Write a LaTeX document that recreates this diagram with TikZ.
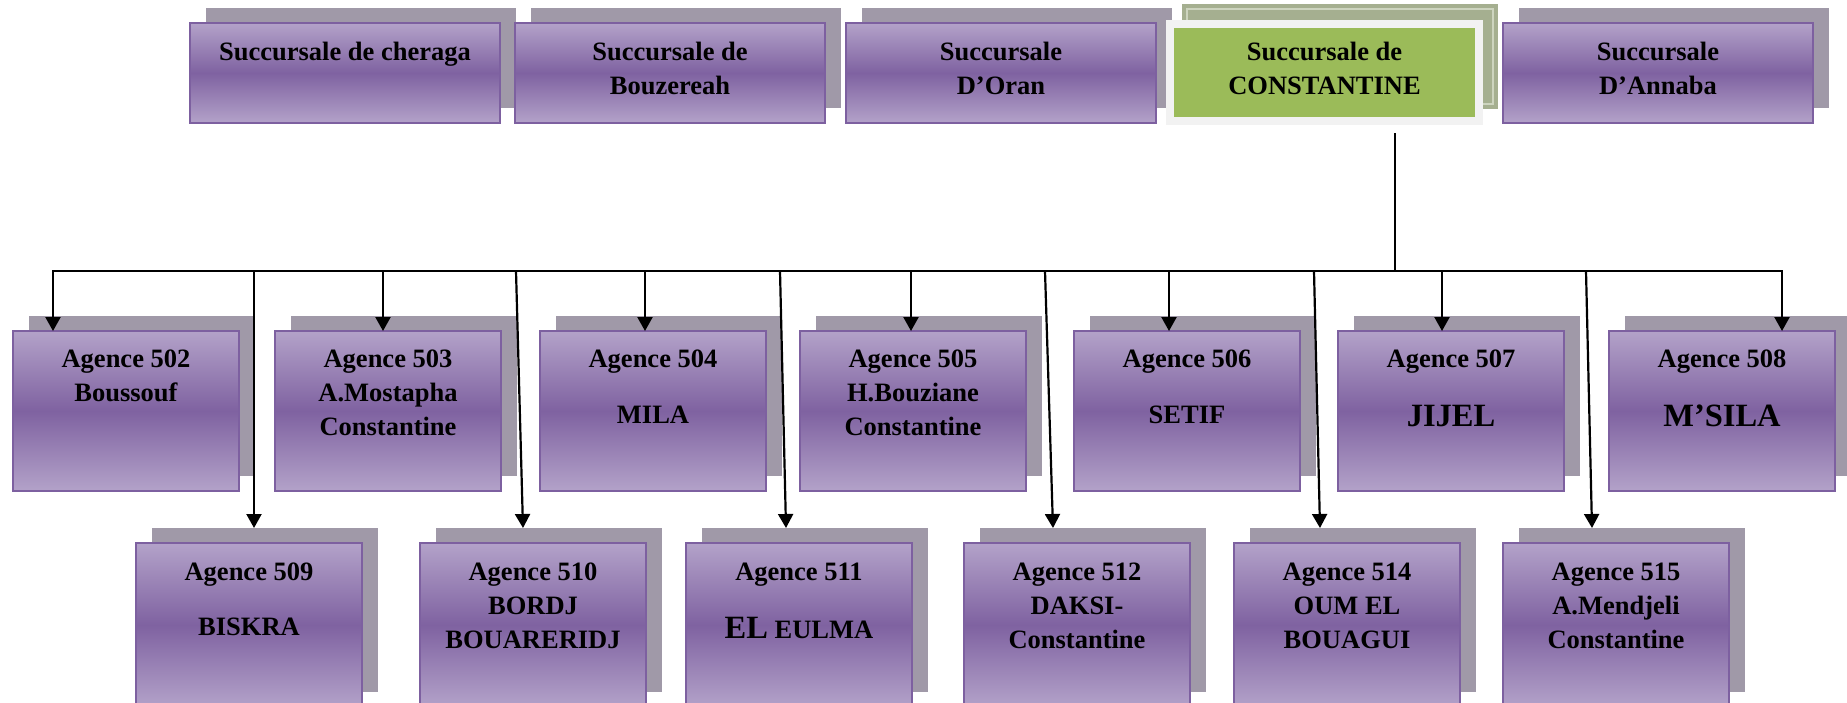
\documentclass[tikz,border=0pt]{standalone}
\usepackage{fontspec}
\setmainfont{Liberation Serif}
\usetikzlibrary{arrows.meta,shadows}
\definecolor{plight}{HTML}{B3A2C9}
\definecolor{pdark}{HTML}{7F62A1}
\definecolor{pborder}{HTML}{7D60A0}
\definecolor{sgrey}{HTML}{A099A8}
\definecolor{cgreen}{HTML}{9BBB59}
\definecolor{cframe}{HTML}{F2F2F2}
\definecolor{cshadow}{HTML}{A5AF90}
\definecolor{cline}{HTML}{CDD4BF}
\newcommand{\tbx}[1]{\parbox[t][100pt][t]{310pt}{\centering\rule{0pt}{37pt}#1}}
\newcommand{\abx}[1]{\parbox[t][160pt][t]{226pt}{\centering\rule{0pt}{36pt}#1}}
\newcommand{\abxb}[1]{\parbox[t][164pt][t]{226pt}{\centering\rule{0pt}{37pt}#1}}
\newcommand{\bigtxt}[1]{{\fontsize{32.5pt}{34pt}\selectfont #1}}
\tikzset{
  basebox/.style={inner sep=0pt, outer sep=0pt, anchor=north west, line width=2pt,
    draw=pborder, top color=plight, bottom color=plight, middle color=pdark,
    drop shadow={shadow xshift=16pt, shadow yshift=15pt, fill=sgrey, opacity=1, draw=none},
    font=\fontsize{26.5pt}{34pt}\selectfont\bfseries},
  topbox/.style={basebox, minimum width=310pt, minimum height=100pt},
  agbox/.style={basebox, minimum width=226pt, minimum height=160pt},
  agboxb/.style={basebox, minimum width=226pt, minimum height=164pt},
  consbox/.style={inner sep=0pt, outer sep=0pt, anchor=north west, fill=cgreen,
    draw=cframe, line width=8pt, minimum width=309pt, minimum height=97pt,
    font=\fontsize{26.5pt}{34pt}\selectfont\bfseries},
  cshbox/.style={inner sep=0pt, outer sep=0pt, anchor=north west, fill=cshadow,
    draw=none, minimum width=316pt, minimum height=105pt},
  conn/.style={line width=2.2pt, black},
  arr/.style={conn, -{Triangle[width=15pt,length=14pt]}}
}
\begin{document}
\begin{tikzpicture}[x=1pt,y=-1pt]
\useasboundingbox (0,0) rectangle (1847,702);
% top row
\node[topbox] (c1) at (190,23) {\tbx{Succursale de cheraga}};
\node[topbox] (c2) at (515,23) {\tbx{Succursale de\\Bouzereah}};
\node[topbox] (c3) at (846,23) {\tbx{Succursale\\D’Oran}};
\node[cshbox] (csh) at (1182,4) {};
\draw[cline, line width=1.5pt] ([shift={(5pt,-5pt)}]csh.north west) rectangle ([shift={(-5pt,5pt)}]csh.south east);
\node[consbox] (cons) at (1170,24) {\parbox[t][97pt][t]{309pt}{\centering\rule{0pt}{36pt}Succursale de\\CONSTANTINE}};
\node[topbox] (c5) at (1503,23) {\tbx{Succursale\\D’Annaba}};
% row 1
\node[agbox] (b502) at (13,331) {\abx{Agence 502\\Boussouf}};
\node[agbox] (b503) at (275,331) {\abx{Agence 503\\A.Mostapha\\Constantine}};
\node[agbox] (b504) at (540,331) {\abx{Agence 504\\[22pt]MILA}};
\node[agbox] (b505) at (800,331) {\abx{Agence 505\\H.Bouziane\\Constantine}};
\node[agbox] (b506) at (1074,331) {\abx{Agence 506\\[22pt]SETIF}};
\node[agbox] (b507) at (1338,331) {\abx{Agence 507\\[25pt]\bigtxt{JIJEL}}};
\node[agbox] (b508) at (1609,331) {\abx{Agence 508\\[25pt]\bigtxt{M’SILA}}};
% row 2
\node[agboxb] (b509) at (136,543) {\abxb{Agence 509\\[21pt]BISKRA}};
\node[agboxb] (b510) at (420,543) {\abxb{Agence 510\\BORDJ\\BOUARERIDJ}};
\node[agboxb] (b511) at (686,543) {\abxb{Agence 511\\[24pt]\bigtxt{EL} EULMA}};
\node[agboxb] (b512) at (964,543) {\abxb{Agence 512\\DAKSI-\\Constantine}};
\node[agboxb] (b514) at (1234,543) {\abxb{Agence 514\\OUM EL\\BOUAGUI}};
\node[agboxb] (b515) at (1503,543) {\abxb{Agence 515\\A.Mendjeli\\Constantine}};
% bus taps
\coordinate (k502) at (53,271);
\coordinate (k509) at (254,271);
\coordinate (k503) at (383,271);
\coordinate (k510) at (516,271);
\coordinate (k504) at (645,271);
\coordinate (k511) at (780,271);
\coordinate (k505) at (911,271);
\coordinate (k512) at (1045,271);
\coordinate (k506) at (1169,271);
\coordinate (k514) at (1314,271);
\coordinate (kC) at (1395,271);
\coordinate (k507) at (1442,271);
\coordinate (k515) at (1586,271);
\coordinate (k508) at (1782,271);
% connectors
\draw[conn] ([xshift=225pt,yshift=-12pt]cons.south west) -- (kC);
\draw[conn, line cap=rect] (k502) -- (k508);
\draw[arr] (k502) -- ([xshift=40pt]b502.north west);
\draw[arr] (k503) -- ([xshift=108pt]b503.north west);
\draw[arr] (k504) -- ([xshift=105pt]b504.north west);
\draw[arr] (k505) -- ([xshift=111pt]b505.north west);
\draw[arr] (k506) -- ([xshift=95pt]b506.north west);
\draw[arr] (k507) -- ([xshift=104pt]b507.north west);
\draw[arr] (k508) -- ([xshift=173pt]b508.north west);
\draw[arr] (k509) -- ([xshift=118pt,yshift=15pt]b509.north west);
\draw[arr] (k510) -- ([xshift=103pt,yshift=15pt]b510.north west);
\draw[arr] (k511) -- ([xshift=100pt,yshift=15pt]b511.north west);
\draw[arr] (k512) -- ([xshift=89pt,yshift=15pt]b512.north west);
\draw[arr] (k514) -- ([xshift=86pt,yshift=15pt]b514.north west);
\draw[arr] (k515) -- ([xshift=89pt,yshift=15pt]b515.north west);
\end{tikzpicture}
\end{document}
